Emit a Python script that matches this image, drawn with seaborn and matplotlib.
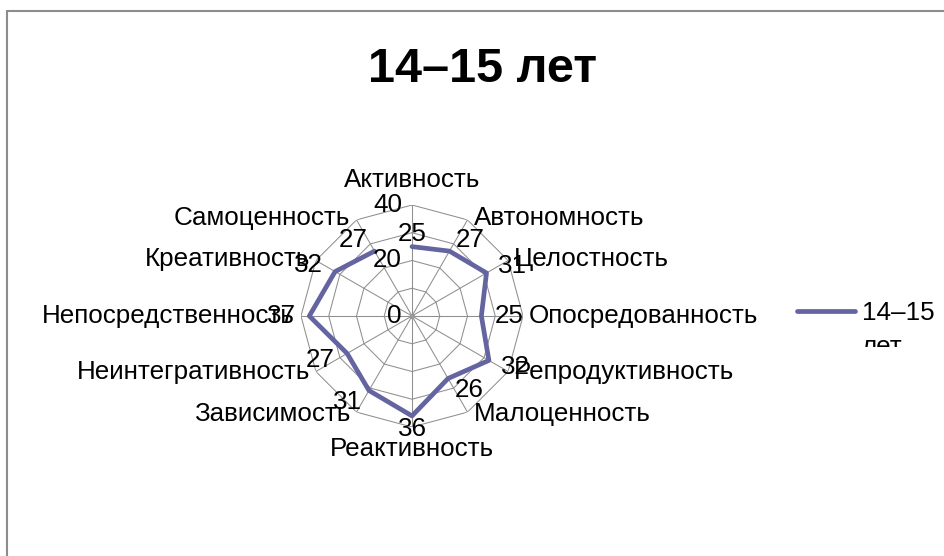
import numpy as np
import pandas as pd
import matplotlib
matplotlib.use("Agg")
import matplotlib.pyplot as plt
import matplotlib.transforms as mtransforms
import seaborn as sns
from matplotlib.patches import Rectangle

categories = ["Активность", "Автономность", "Целостность", "Опосредованность",
              "Репродуктивность", "Малоценность", "Реактивность", "Зависимость",
              "Неинтегративность", "Непосредственность", "Креативность", "Самоценность"]
values = [25, 27, 31, 25, 32, 26, 36, 31, 27, 37, 32, 27]
series_name = "14–15 лет"
title = "14–15 лет"
r_ticks = [0, 20, 40]
grid_levels = [10, 20, 30, 40]

sns.set_theme(style="white")
plt.rcParams['font.family'] = ['Liberation Sans', 'DejaVu Sans']
plt.rcParams['text.color'] = 'black'

W, H = 944, 556
fig = plt.figure(figsize=(W / 100, H / 100), dpi=100)
fig.patch.set_facecolor("white")

# outer chart border (partially outside the image)
fig.patches.append(Rectangle((7 / W, -0.1), 1.2, (H - 11) / H + 0.1,
                             transform=fig.transFigure, fill=False,
                             edgecolor="#8c8c8c", linewidth=1.5))

cx, cy, R = 412, 316, 111
ax = fig.add_axes([(cx - R) / W, (H - cy - R) / H, 2 * R / W, 2 * R / H],
                  projection="polar")
ax.set_theta_zero_location("N")
ax.set_theta_direction(-1)
ax.set_ylim(0, 40)
ax.grid(False)
ax.spines["polar"].set_visible(False)
ax.set_xticks([])
ax.set_yticks([])
ax.set_facecolor("none")

n = len(categories)
theta = np.arange(n) * 2 * np.pi / n

gcol = "#8f8f8f"
for lev in grid_levels:
    ax.plot(np.append(theta, theta[0]), [lev] * (n + 1), color=gcol, lw=0.75, zorder=1)
for t in theta:
    ax.plot([t, t], [0, 40], color=gcol, lw=0.75, zorder=1)
ax.plot([0], [0], marker="o", ms=3, color="#999999", zorder=1)

df = pd.DataFrame({"theta": np.append(theta, theta[0]),
                   "value": values + [values[0]]})
sns.lineplot(data=df, x="theta", y="value", sort=False, ax=ax,
             color="#6464A0", lw=3.4, label=series_name, zorder=3)
ax.set_xlabel("")
ax.set_ylabel("")

fs = 18.7
# radial tick labels
for v in r_ticks:
    ax.annotate(str(v), xy=(0, v), xytext=(-10, 0), textcoords="offset pixels",
                ha="right", va="center", fontsize=fs, color="black")

# value labels
for t, v in zip(theta, values):
    s, c = np.sin(t), np.cos(t)
    dx = 28 * np.sign(s) * abs(s) ** 0.4 if abs(s) > 1e-6 else 0
    dy = 13 * c
    ax.annotate(str(v), xy=(t, v), xytext=(dx, dy), textcoords="offset pixels",
                ha="center", va="center", fontsize=fs, color="black", zorder=4)

# category labels
for t, name in zip(theta, categories):
    s, c = np.sin(t), np.cos(t)
    if abs(s) < 1e-6:
        ha = "center"
        dx, dy = 0, (25 if c > 0 else -22)
    elif s > 0:
        ha = "left"
        dx, dy = 6, 2 * c
    else:
        ha = "right"
        dx, dy = -6, 2 * c
    ax.annotate(name, xy=(t, 40), xytext=(dx, dy), textcoords="offset pixels",
                ha=ha, va="center", fontsize=fs, color="black")

fig.text(483 / W, 1 - 69 / H, title, ha="center", va="center",
         fontsize=35, fontweight="bold", color="black")

# legend: first line beside the handle, second line clipped by the chart edge
leg = ax.legend(loc="center left", bbox_to_anchor=(797 / W, 1 - 313 / H),
                bbox_transform=fig.transFigure, frameon=False, fontsize=fs,
                handlelength=2.25, handletextpad=0.27, borderpad=0,
                borderaxespad=0, labelcolor="black")
leg.get_texts()[0].set_text(series_name.split(" ")[0])
second = fig.text(862 / W, 1 - 353.5 / H, series_name.split(" ")[1],
                  ha="left", va="baseline", fontsize=fs, color="black")
second.set_clip_box(mtransforms.Bbox.from_extents(0, H - 347, W, H))
second.set_clip_on(True)

fig.savefig("out.png", dpi=100)
